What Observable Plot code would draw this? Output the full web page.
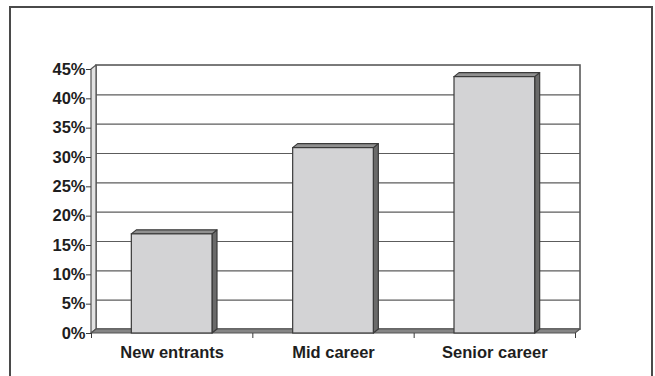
<!DOCTYPE html>
<html>
<head>
<meta charset="utf-8">
<script src="https://cdn.jsdelivr.net/npm/d3@7"></script>
<script src="https://cdn.jsdelivr.net/npm/@observablehq/plot@0.6"></script>
<style>
  body { margin: 0; background: #fff; }
  #chart { position: relative; width: 655px; height: 376px; overflow: hidden; background: #fff; }
  #chart svg { position: absolute; left: 0; top: 0; }
  #border { position: absolute; left: 9px; top: 6px; width: 644px; height: 420px;
            border: 2px solid #4a4a4a; box-sizing: border-box; pointer-events: none; }
</style>
</head>
<body>
<div id="chart"><div id="border"></div></div>
<script>
// Share of respondents by career stage
const categories = ["New entrants", "Mid career", "Senior career"];
const shares = [16.9, 31.6, 43.7];
const yTicks = [0, 5, 10, 15, 20, 25, 30, 35, 40, 45];

// 3-D look: depth of the box in x units (one category slot = 1) and in percentage points
const DX = 0.031;
const DY = 0.68;
const HALF = 0.25;      // half the bar width, in category slots
const YMAX = 45;
const NCAT = categories.length;

const bars = categories.map((c, i) => ({
  i, category: c, value: shares[i],
  x1: i + 0.5 - HALF, x2: i + 0.5 + HALF
}));

// right-hand side face of each bar
const sides = bars.flatMap(b => [
  {z: b.i, x: b.x2, y1: 0, y2: b.value},
  {z: b.i, x: b.x2 + DX, y1: DY, y2: b.value + DY}
]);

// top face of each bar
const tops = bars.flatMap(b => [
  {z: b.i, x: b.x1, y1: b.value, y2: b.value},
  {z: b.i, x: b.x1 + DX, y1: b.value, y2: b.value + DY},
  {z: b.i, x: b.x2, y1: b.value, y2: b.value + DY},
  {z: b.i, x: b.x2 + DX, y1: b.value + DY, y2: b.value + DY}
]);

// floor slab and left wall of the box
const floor = [
  {x: 0, y1: 0, y2: 0},
  {x: DX, y1: 0, y2: DY},
  {x: NCAT, y1: 0, y2: DY},
  {x: NCAT + DX, y1: DY, y2: DY}
];
const leftWall = [
  {x: 0, y1: 0, y2: YMAX},
  {x: DX, y1: DY, y2: YMAX + DY}
];

const font = "'Liberation Sans', Arial, Helvetica, sans-serif";
const ink = "#3a3a3a";

const chart = Plot.plot({
  width: 655,
  height: 376,
  marginLeft: 91,
  marginRight: 80,
  marginTop: 69,
  marginBottom: 43,
  style: {fontFamily: font, fontWeight: "bold", fontSize: "16px", color: "#1e1e1e", background: "transparent"},
  x: {type: "linear", domain: [0, NCAT]},
  y: {domain: [0, YMAX]},
  marks: [
    // back wall
    Plot.rect([{}], {x1: DX, x2: NCAT + DX, y1: DY, y2: YMAX + DY, fill: "#fff", stroke: "#5a5a5a", strokeWidth: 1.6}),
    Plot.ruleY(yTicks.filter(t => t > 0 && t < YMAX), {y: t => t + DY, x1: DX, x2: NCAT + DX, stroke: "#5c5c5c", strokeWidth: 1.2}),
    // left wall
    Plot.area(leftWall, {x1: "x", y1: "y1", y2: "y2", fill: "#e2e2e2", stroke: "#555", strokeWidth: 1.2}),
    // floor
    Plot.area(floor, {x1: "x", y1: "y1", y2: "y2", fill: "#858585", stroke: "#555", strokeWidth: 1.2}),
    // bars
    Plot.area(sides, {x1: "x", y1: "y1", y2: "y2", z: "z", fill: "#6a6a6a", stroke: ink, strokeWidth: 1.2}),
    Plot.area(tops, {x1: "x", y1: "y1", y2: "y2", z: "z", fill: "#909090", stroke: ink, strokeWidth: 1.2}),
    Plot.rect(bars, {x1: "x1", x2: "x2", y1: 0, y2: "value", fill: "#d3d3d5", stroke: ink, strokeWidth: 1.2}),
    // axes
    Plot.axisY(yTicks, {tickFormat: d => d + "%", tickSize: 5, tickPadding: 1, stroke: ink, fill: "#1e1e1e",
                        fontSize: 16.5, fontWeight: "bold", label: null}),
    Plot.axisX([0, 1, 2, 3], {tickSize: 5, tickFormat: () => "", stroke: ink, label: null}),
    Plot.axisX(bars.map(b => b.i + 0.5), {tickSize: 0, tickPadding: 13, tickFormat: x => categories[Math.floor(x)],
                        fill: "#1e1e1e", fontSize: 16.5, fontWeight: "bold", label: null})
  ]
});

document.getElementById("chart").prepend(chart);
</script>
</body>
</html>
